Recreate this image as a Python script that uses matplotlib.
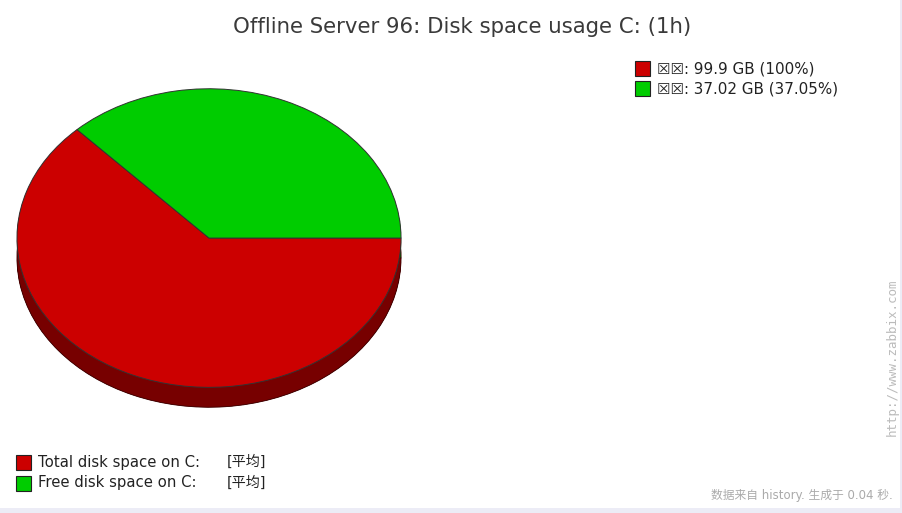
import matplotlib
matplotlib.use("Agg")
import matplotlib.pyplot as plt
from matplotlib.patches import Wedge, Rectangle
import numpy as np

# ---- data ----
title = "Offline Server 96: Disk space usage C: (1h)"
series_names = ["Total disk space on C:", "Free disk space on C:"]
series_values = [99.9, 37.02]          # GB
series_percent = [100.0, 37.05]        # % shown in legend
series_func = ["[平均]", "[平均]"]
value_prefix = "☒☒"
colors = ["#CC0000", "#00CC00"]
dark_colors = ["#770000", "#007700"]
footer = "数据来自 history. 生成于 0.04 秒."
watermark = "http://www.zabbix.com"

W, H = 903, 513
fig = plt.figure(figsize=(W / 100, H / 100), dpi=100)
fig.patch.set_facecolor("white")

# border strips (right / bottom)
bg = fig.add_axes([0, 0, 1, 1])
bg.set_xlim(0, W); bg.set_ylim(H, 0); bg.axis("off")
bg.add_patch(Rectangle((900, 0), 3, H, color="#ECECF6", lw=0))
bg.add_patch(Rectangle((0, 508), W, 5, color="#ECECF6", lw=0))

# ---- pie (pseudo 3D) ----
cx0, cx1 = 16, 402          # ellipse horizontal extent (px)
cy0, cy1 = 88, 388          # top face vertical extent (px)
depth_px = 20
ry_px = (cy1 - cy0) / 2
d = depth_px / ry_px
ax = fig.add_axes([cx0 / W, 1 - (cy1 + depth_px) / H, (cx1 - cx0) / W,
                   (cy1 - cy0 + depth_px) / H])
ax.set_xlim(-1.005, 1.005)
ax.set_ylim(-1 - d - 0.005, 1.005)
ax.axis("off")

total = series_values[0]
free_frac = series_values[1] / total
# green slice (free) from 0 deg counter-clockwise, red = remainder
angles = [(free_frac * 360, 360), (0, free_frac * 360)]

n_layers = 40
for k in range(n_layers, 0, -1):
    off = -d * k / n_layers
    for (a0, a1), dc in zip(angles, dark_colors):
        ax.add_patch(Wedge((0, off), 1, a0, a1, facecolor=dc, edgecolor="none"))
# bottom outline
for (a0, a1), dc in zip(angles, dark_colors):
    ax.add_patch(Wedge((0, -d), 1, a0, a1, facecolor=dc, edgecolor="#3a0000", lw=0.6))
for (a0, a1), c in zip(angles, colors):
    ax.add_patch(Wedge((0, 0), 1, a0, a1, facecolor=c, edgecolor="#333333", lw=0.7))

# ---- title ----
fig.text(462 / W, 1 - 27 / H, title, ha="center", va="center",
         fontsize=15.3, color="#3a3a3a", family="DejaVu Sans")

# ---- right legend ----
for i, (v, p, c) in enumerate(zip(series_values, series_percent, colors)):
    y = 68 + i * 20.5
    bg.add_patch(Rectangle((635, y - 7.5), 15, 15, facecolor=c, edgecolor="#222222", lw=0.8))
    bg.text(657, y + 0.5, f"{value_prefix}: {v:g} GB ({p:g}%)", ha="left", va="center",
            fontsize=10.9, color="#222222", family="DejaVu Sans")

# ---- bottom legend ----
for i, (n, fnc, c) in enumerate(zip(series_names, series_func, colors)):
    y = 462 + i * 21
    bg.add_patch(Rectangle((16, y - 7.5), 15, 15, facecolor=c, edgecolor="#222222", lw=0.8))
    bg.text(38, y, n, ha="left", va="center", fontsize=10.7, color="#222222",
            family="DejaVu Sans")
    bg.text(227, y, fnc, ha="left", va="center", fontsize=10.2, color="#222222",
            family=["DejaVu Sans", "Noto Sans CJK SC"])

# ---- footer & watermark ----
bg.text(893, 496, footer, ha="right", va="center", fontsize=8.5, color="#AAAAAA",
        family=["DejaVu Sans", "Noto Sans CJK SC"])
bg.text(892, 436, watermark, ha="center", va="bottom", rotation=90, fontsize=9,
        color="#BBBBBB", family="DejaVu Sans Mono")

fig.savefig("out.png", dpi=100, facecolor="white")
